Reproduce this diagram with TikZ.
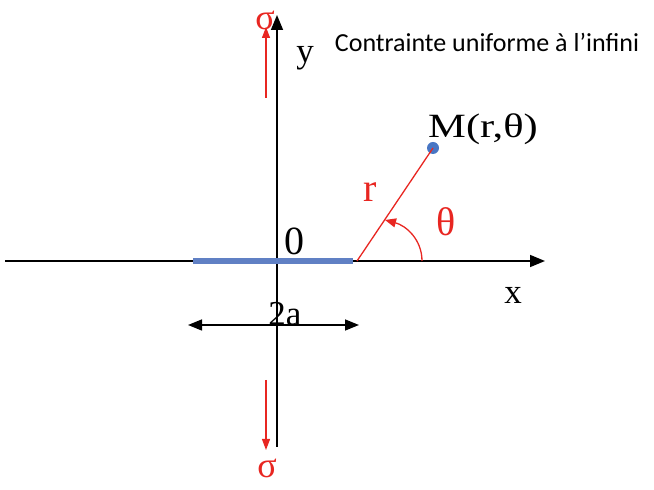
\documentclass[tikz,border=0pt]{standalone}
\usepackage{fontspec}
\setmainfont{Liberation Serif}
\newfontfamily\titlefont{Carlito}
\newfontfamily\widefont[FakeStretch=1.25]{Liberation Serif}
\usepackage{xcolor}
\usetikzlibrary{arrows.meta,positioning}
\definecolor{loadred}{RGB}{232,38,33}
\definecolor{crackblue}{RGB}{96,128,196}
\definecolor{dotblue}{RGB}{72,118,196}

\begin{document}
\begin{tikzpicture}[
  x=1pt,
  y=1pt,
  axis/.style={-{Triangle[length=15pt,width=12pt]}, line width=1.6pt, color=black},
  load/.style={-{Triangle[length=11pt,width=8pt]}, line width=1.2pt, color=loadred},
  radial/.style={line width=1.3pt, color=loadred},
  angle/.style={-{Triangle[length=11pt,width=9pt]}, line width=1.3pt, color=loadred},
  span/.style={{Triangle[length=14pt,width=11pt]}-{Triangle[length=14pt,width=11pt]}, line width=1.5pt, color=black},
  crack/.style={line width=6pt, color=crackblue},
  point/.style={circle, fill=dotblue, minimum size=12pt, inner sep=0pt},
  tag/.style={inner sep=0pt, font=\fontsize{35}{35}\selectfont},
  redtag/.style={inner sep=0pt, text=loadred, font=\fontsize{40}{40}\selectfont},
  title/.style={inner sep=0pt, font=\titlefont\fontsize{26}{26}\selectfont}
]
  \useasboundingbox (0,0) rectangle (654,490);

  % axes
  \coordinate (xl) at (5,229);
  \coordinate (xr) at (545,229);
  \coordinate (yb) at (277,43);
  \coordinate (yt) at (277,475);
  \draw[axis] (xl) -- (xr);
  \draw[axis] (yb) -- (yt);

  % crack of length 2a
  \coordinate (cl) at (193,229);
  \coordinate (cr) at (353,229);
  \draw[crack] (cl) -- (cr);

  % point M
  \coordinate (tip) at (357,229);
  \node[point] (m) at (433,342) {};
  \draw[radial] (tip) -- (m.center);
  \coordinate (th0) at (422,229);
  \coordinate (th1) at (385,270);
  \draw[angle] (th0) to[out=90, in=-15] (th1);

  % remote stress
  \coordinate (st0) at (266,392);
  \coordinate (st1) at (266,463);
  \coordinate (sb0) at (266,110);
  \coordinate (sb1) at (266,40);
  \draw[load] (st0) -- (st1);
  \draw[load] (sb0) -- (sb1);

  % width
  \coordinate (wl) at (188,165);
  \coordinate (wr) at (359,165);
  \draw[span] (wl) -- (wr);

  % labels
  \node[redtag, font=\fontsize{36}{36}\selectfont] (sigt) at (265,470) {σ};
  \node[redtag, font=\fontsize{36}{36}\selectfont] (sigb) at (267,22) {σ};
  \node[tag] (ly) at (305,432) {y};
  \node[tag] (lx) at (513,195) {x};
  \node[tag, font=\fontsize{40}{40}\selectfont] (lo) at (294,249) {0};
  \node[tag] (lw) at (285,176) {2a};
  \node[tag, font=\widefont\fontsize{34}{34}\selectfont] (lm) at (483,361) {M(r,θ)};
  \node[redtag] (lr) at (370,298) {r};
  \node[redtag] (lt) at (446,268) {θ};
  \node[title] (ttl) at (487,448) {Contrainte uniforme à l’infini};
\end{tikzpicture}
\end{document}
